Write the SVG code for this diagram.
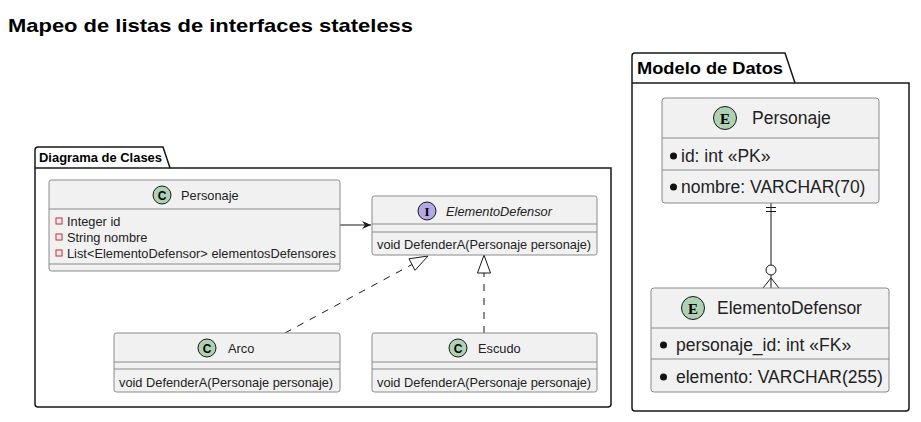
<svg xmlns="http://www.w3.org/2000/svg" width="921" height="422" viewBox="0 0 921 422">
<style>
text{font-family:"Liberation Sans",Arial,sans-serif;fill:#000}
.title{font-size:18.5px;font-weight:bold}
.pkg{fill:none;stroke:#181818;stroke-width:1.5}
.pkl{font-size:12.5px;font-weight:bold}
.pkl2{font-size:16px;font-weight:bold}
.box{fill:#F1F1F1;stroke:#8a8a8a;stroke-width:1}
.sep{stroke:#8a8a8a;stroke-width:1}
.t{font-size:12.8px;fill:#222}
.e{font-size:17.5px;fill:#222}
.ci{stroke:#181818;stroke-width:1}
.vis{fill:none;stroke:#C82930;stroke-width:1}
.edge{fill:none;stroke:#181818;stroke-width:1}
.dash{stroke-dasharray:7,7}
</style>
<defs>
<marker id="arr" markerWidth="10" markerHeight="10" refX="9" refY="5" orient="auto" markerUnits="userSpaceOnUse">
<path d="M0,1 L9,5 L0,9 L3,5 Z" fill="#181818"/>
</marker>
</defs>
<rect width="921" height="422" fill="#fff"/>
<text class="title" x="8" y="32" textLength="405" lengthAdjust="spacingAndGlyphs">Mapeo de listas de interfaces stateless</text>

<g id="pkg-clases">
<path class="pkg" d="M35,168 L35,150 Q35,147 38,147 L163,147 L170,168 L611,168 L611,404 Q611,407 608,407 L38,407 Q35,407 35,404 Z"/>
<line class="pkg" x1="35" y1="168" x2="170" y2="168"/>
<text class="pkl" x="39" y="162" textLength="123" lengthAdjust="spacingAndGlyphs">Diagrama de Clases</text>
</g>

<g id="pkg-datos">
<path class="pkg" d="M632,83 L632,56 Q632,53 635,53 L785,53 L795,83 L909,83 L909,408 Q909,411 906,411 L635,411 Q632,411 632,408 Z"/>
<line class="pkg" x1="632" y1="83" x2="795" y2="83"/>
<text class="pkl2" x="637" y="74" textLength="146" lengthAdjust="spacingAndGlyphs">Modelo de Datos</text>
</g>

<g id="connectors">
<line class="edge" x1="340" y1="225" x2="371" y2="225" marker-end="url(#arr)"/>
<line class="edge dash" x1="285" y1="333" x2="412" y2="264.5"/>
<path class="edge" d="M428,256 L415,270.3 L409,258.8 Z" fill="#fff"/>
<line class="edge dash" x1="484" y1="333" x2="484" y2="273"/>
<path class="edge" d="M484,255 L490.5,273 L477.5,273 Z" fill="#fff"/>
<line class="edge" x1="771" y1="203" x2="771" y2="265" stroke="#555"/>
<line class="edge" x1="766" y1="207.5" x2="776" y2="207.5" stroke="#555"/>
<line class="edge" x1="766" y1="211.5" x2="776" y2="211.5" stroke="#555"/>
<circle class="edge" cx="771" cy="270" r="5" fill="#fff" stroke="#555"/>
<line class="edge" x1="771" y1="275" x2="771" y2="288" stroke="#555"/>
<path class="edge" d="M763,288 L771,278 L779,288" stroke="#555"/>
</g>

<g id="cls-personaje">
<rect class="box" x="49" y="180" width="291" height="91" rx="2.5"/>
<line class="sep" x1="49" y1="209" x2="340" y2="209"/>
<line class="sep" x1="49" y1="264" x2="340" y2="264"/>
<circle class="ci" cx="162" cy="195" r="9" fill="#ADD1B2"/>
<text x="162" y="199.5" text-anchor="middle" style="font-size:12px;font-weight:bold">C</text>
<text class="t" x="181" y="199.5">Personaje</text>
<rect class="vis" x="56" y="218" width="6" height="6"/>
<text class="t" x="67" y="225.5">Integer id</text>
<rect class="vis" x="56" y="234" width="6" height="6"/>
<text class="t" x="67" y="241.5">String nombre</text>
<rect class="vis" x="56" y="250" width="6" height="6"/>
<text class="t" x="67" y="257.5">List&lt;ElementoDefensor&gt; elementosDefensores</text>
</g>

<g id="int-elemento">
<rect class="box" x="372" y="196" width="225" height="59" rx="2.5"/>
<line class="sep" x1="372" y1="224" x2="597" y2="224"/>
<line class="sep" x1="372" y1="232" x2="597" y2="232"/>
<circle class="ci" cx="427" cy="211" r="9" fill="#B4A7E5"/>
<text x="427" y="215.5" text-anchor="middle" style="font-family:'Liberation Serif',serif;font-size:13px;font-weight:bold">I</text>
<text class="t" x="446" y="215.5" font-style="italic">ElementoDefensor</text>
<text class="t" x="377" y="248.5">void DefenderA(Personaje personaje)</text>
</g>

<g id="cls-arco">
<rect class="box" x="114" y="333" width="226" height="59" rx="2.5"/>
<line class="sep" x1="114" y1="362" x2="340" y2="362"/>
<line class="sep" x1="114" y1="369" x2="340" y2="369"/>
<circle class="ci" cx="207" cy="348" r="9" fill="#ADD1B2"/>
<text x="207" y="352.5" text-anchor="middle" style="font-size:12px;font-weight:bold">C</text>
<text class="t" x="228" y="352.5">Arco</text>
<text class="t" x="119" y="387">void DefenderA(Personaje personaje)</text>
</g>

<g id="cls-escudo">
<rect class="box" x="372" y="333" width="225" height="59" rx="2.5"/>
<line class="sep" x1="372" y1="362" x2="597" y2="362"/>
<line class="sep" x1="372" y1="369" x2="597" y2="369"/>
<circle class="ci" cx="458" cy="348" r="9" fill="#ADD1B2"/>
<text x="458" y="352.5" text-anchor="middle" style="font-size:12px;font-weight:bold">C</text>
<text class="t" x="478" y="352.5">Escudo</text>
<text class="t" x="377" y="387">void DefenderA(Personaje personaje)</text>
</g>

<g id="ent-personaje">
<rect class="box" x="662" y="98" width="217" height="105" rx="3"/>
<line class="sep" x1="662" y1="138" x2="879" y2="138"/>
<line class="sep" x1="662" y1="170" x2="879" y2="170"/>
<circle class="ci" cx="725" cy="118" r="11.5" fill="#ADD1B2"/>
<text x="725" y="123.5" text-anchor="middle" style="font-family:'Liberation Serif',serif;font-size:15px;font-weight:bold">E</text>
<text class="e" x="752" y="124">Personaje</text>
<circle cx="673.5" cy="156" r="3.5" fill="#111"/>
<text class="e" x="681" y="162">id: int «PK»</text>
<circle cx="673.5" cy="187" r="3.5" fill="#111"/>
<text class="e" x="681" y="193">nombre: VARCHAR(70)</text>
</g>

<g id="ent-elemento">
<rect class="box" x="651" y="288" width="238" height="104" rx="3"/>
<line class="sep" x1="651" y1="328" x2="889" y2="328"/>
<line class="sep" x1="651" y1="359" x2="889" y2="359"/>
<circle class="ci" cx="693" cy="308" r="11.5" fill="#ADD1B2"/>
<text x="693" y="313.5" text-anchor="middle" style="font-family:'Liberation Serif',serif;font-size:15px;font-weight:bold">E</text>
<text class="e" x="717" y="314">ElementoDefensor</text>
<circle cx="663.5" cy="345" r="3.5" fill="#111"/>
<text class="e" x="676" y="351">personaje_id: int «FK»</text>
<circle cx="663.5" cy="377" r="3.5" fill="#111"/>
<text class="e" x="676" y="383">elemento: VARCHAR(255)</text>
</g>
</svg>
